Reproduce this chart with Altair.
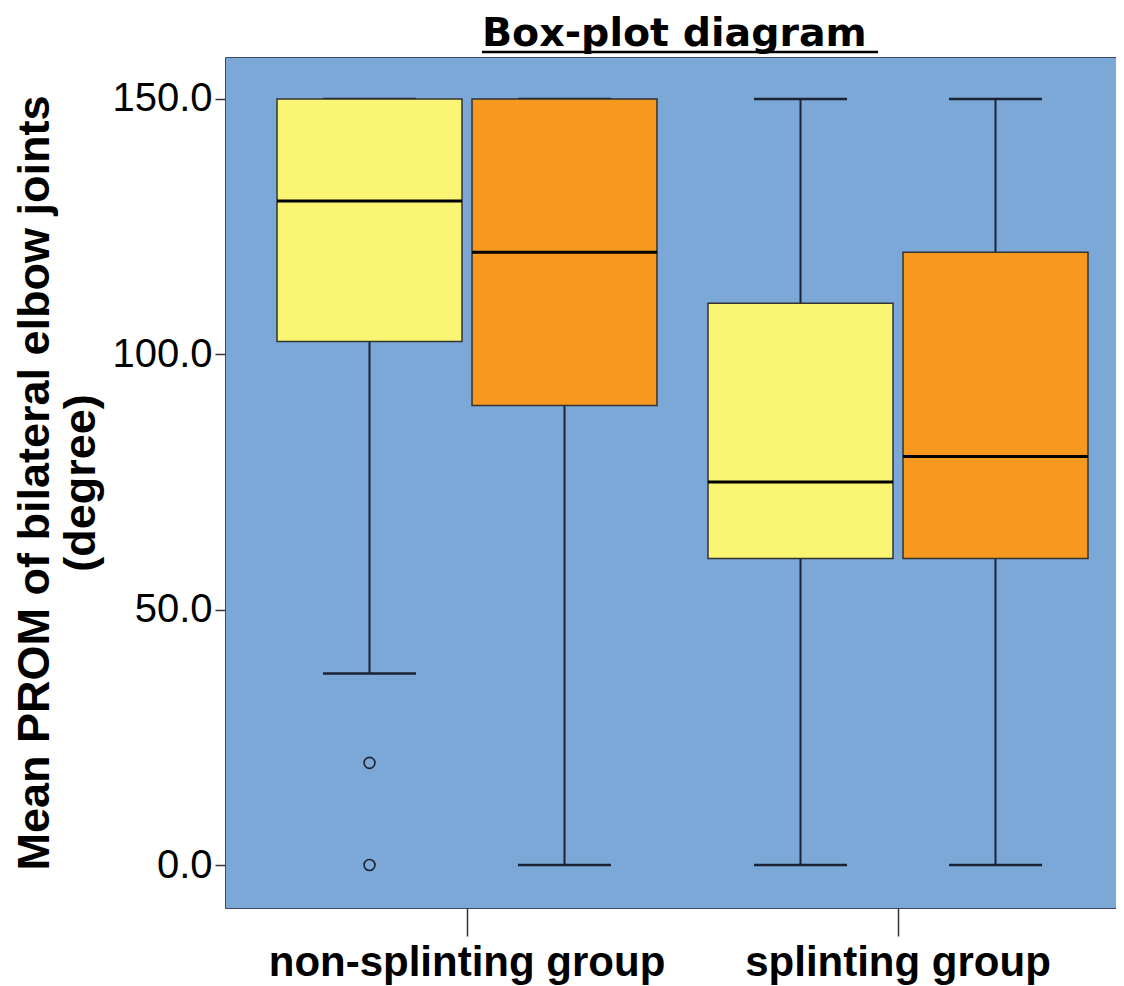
import altair as alt
import pandas as pd

# ---- data ----
groups = ["non-splinting group", "non-splinting group", "splinting group", "splinting group"]
series = ["A", "B", "A", "B"]
whisker_low = [37.5, 0.0, 0.0, 0.0]
q1 = [102.5, 90.0, 60.0, 60.0]
median = [130.0, 120.0, 75.0, 80.0]
q3 = [150.0, 150.0, 110.0, 120.0]
whisker_high = [150.0, 150.0, 150.0, 150.0]

outlier_group = ["non-splinting group", "non-splinting group"]
outlier_series = ["A", "A"]
outlier_value = [20.0, 0.0]

group_order = ["non-splinting group", "splinting group"]
series_order = ["A", "B"]
series_colors = ["#FAF673", "#F7981F"]
y_ticks = [0, 50, 100, 150]

box_df = pd.DataFrame({
    "group": groups, "series": series, "lo": whisker_low, "q1": q1,
    "median": median, "q3": q3, "hi": whisker_high,
})
out_df = pd.DataFrame({"group": outlier_group, "series": outlier_series, "value": outlier_value})

FONT = "Liberation Sans"
INK = "#1b2233"

x_enc = alt.X(
    "group:N",
    sort=group_order,
    scale=alt.Scale(paddingInner=0, paddingOuter=0.03364, align=0.914),
    axis=alt.Axis(
        title=None, labelAngle=0, labelFont=FONT, labelFontSize=42,
        labelFontWeight="bold", labelColor="black", tickSize=28,
        tickColor="#333333", tickWidth=1.5, domain=False, labelPadding=6,
        labelLimit=0,
    ),
)
xoff = alt.XOffset(
    "series:N", sort=series_order,
    scale=alt.Scale(paddingInner=0.0513, paddingOuter=0.1308),
)
y_scale = alt.Scale(domain=[-8.42, 158.22], nice=False, zero=False)
y_axis = alt.Axis(
    values=y_ticks, format=".1f", grid=False, domain=False,
    tickSize=10, tickColor="#333333", tickWidth=1.5,
    labelFont=FONT, labelFontSize=40, labelColor="black", labelPadding=3,
    title=["Mean PROM of bilateral elbow joints", "(degree)"],
    titleFont=FONT, titleFontSize=45, titleFontWeight="bold", titleColor="black",
    titleLineHeight=46, titlePadding=8,
)

base = alt.Chart(box_df)

whisk_low = base.mark_rule(color=INK, strokeWidth=2, opacity=1).encode(
    x=x_enc, xOffset=xoff,
    y=alt.Y("lo:Q", scale=y_scale, axis=y_axis), y2="q1:Q",
)
whisk_high = base.mark_rule(color=INK, strokeWidth=2, opacity=1).encode(
    x=x_enc, xOffset=xoff, y=alt.Y("q3:Q", scale=y_scale), y2="hi:Q",
)
cap_low = base.mark_tick(color=INK, thickness=2.5, size=93, orient="horizontal", opacity=1).encode(
    x=x_enc, xOffset=xoff, y=alt.Y("lo:Q", scale=y_scale),
)
cap_high = base.mark_tick(color=INK, thickness=2.5, size=93, orient="horizontal", opacity=1).encode(
    x=x_enc, xOffset=xoff, y=alt.Y("hi:Q", scale=y_scale),
)
boxes = base.mark_bar(stroke="#333333", strokeWidth=1.5, opacity=1).encode(
    x=x_enc, xOffset=xoff,
    y=alt.Y("q1:Q", scale=y_scale), y2="q3:Q",
    color=alt.Color("series:N", scale=alt.Scale(domain=series_order, range=series_colors), legend=None),
)
medians = base.mark_tick(color="black", thickness=3, size=185, orient="horizontal", opacity=1).encode(
    x=x_enc, xOffset=xoff, y=alt.Y("median:Q", scale=y_scale),
)
outliers = alt.Chart(out_df).mark_point(
    shape="circle", filled=False, size=120, stroke=INK, strokeWidth=1.6, opacity=1
).encode(
    x=x_enc, xOffset=xoff, y=alt.Y("value:Q", scale=y_scale),
)
underline = alt.Chart(pd.DataFrame({"k": [0]})).mark_rule(color="black", strokeWidth=2.5).encode(
    x=alt.value(257), x2=alt.value(653), y=alt.value(-5),
)

chart = alt.layer(
    whisk_low, whisk_high, cap_low, cap_high, boxes, medians, outliers, underline
).properties(
    width=891, height=851,
    title=alt.TitleParams(
        "Box-plot diagram", font="DejaVu Sans", fontSize=39.5, fontWeight="bold",
        color="black", anchor="start", frame="group",
        offset=-4, dx=257,
    ),
    autosize=alt.AutoSizeParams(type="none"),
    padding={"left": 217, "top": 49, "right": 0, "bottom": 78},
).configure_view(
    fill="#7BA8D6", stroke="#3d4a5c", strokeWidth=1
)

chart.save("out.html", embed_options={"renderer": "svg", "actions": False})
